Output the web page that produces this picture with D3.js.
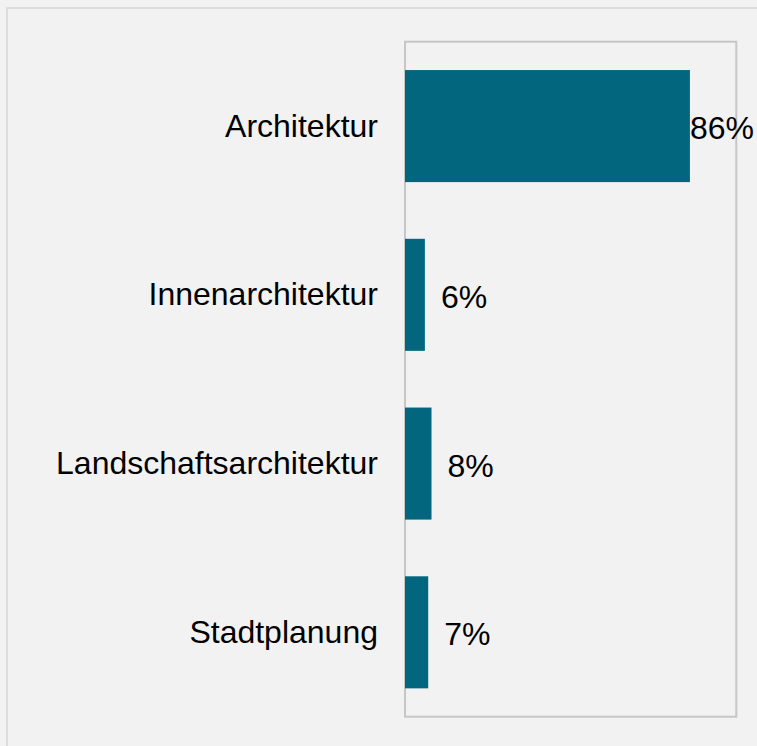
<!DOCTYPE html>
<meta charset="utf-8">
<style>
	body { margin: 0; background: #f2f2f2; }
	svg { display: block; font-family: "Liberation Sans", Arial, sans-serif; }
	.frame { fill: none; stroke: #dcdcdc; stroke-width: 2px; }
	.plot-box { fill: none; stroke: #c6c6c6; stroke-width: 2px; }
	.bar { fill: #02667f; }
	.cat { font-size: 32px; fill: #000; }
	.val { font-size: 32px; fill: #000; }
</style>
<svg id="barChart" width="757" height="746"></svg>
<script src="https://d3js.org/d3.v7.min.js"></script>
<script>
	// Anteile je Fachrichtung
	var categories = ["Architektur", "Innenarchitektur", "Landschaftsarchitektur", "Stadtplanung"];
	var values = [86, 6, 8, 7];
	var valueLabels = ["86%", "6%", "8%", "7%"];

	var data = categories.map(function(c, i){ return {name: c, value: values[i], label: valueLabels[i]}; });

	var svg = d3.select("#barChart"),
	W = +svg.attr("width"),
	margin = {top: 41.7, right: 20.7, bottom: 29.3, left: 405},
	width = W - margin.left - margin.right,
	height = svg.attr("height") - margin.top - margin.bottom;

	// outer frame, runs off the right and bottom edge
	svg.append("rect")
	.attr("class", "frame")
	.attr("x", 7).attr("y", 8)
	.attr("width", 800).attr("height", 800);

	var g = svg.append("g").attr("transform", "translate(" + margin.left + "," + margin.top + ")");

	var x = d3.scaleLinear().domain([0, 100]).range([0, width]);
	var y = d3.scaleBand().domain(categories).range([0, height]).paddingInner(0.336).paddingOuter(0.168);

	g.append("rect")
	.attr("class", "plot-box")
	.attr("x", 0).attr("y", 0)
	.attr("width", width).attr("height", height);

	g.selectAll(".bar")
	.data(data)
	.enter().append("rect")
	.attr("class", "bar")
	.attr("x", x(0))
	.attr("y", function(d) { return y(d.name); })
	.attr("width", function(d) { return x(d.value) - x(0); })
	.attr("height", y.bandwidth());

	g.selectAll(".cat")
	.data(data)
	.enter().append("text")
	.attr("class", "cat")
	.attr("x", -27)
	.attr("y", function(d) { return y(d.name) + y.bandwidth() / 2 + 10.5; })
	.attr("text-anchor", "end")
	.text(function(d) { return d.name; });

	g.selectAll(".val")
	.data(data)
	.enter().append("text")
	.attr("class", "val")
	.attr("y", function(d) { return y(d.name) + y.bandwidth() / 2 + 13; })
	.text(function(d) { return d.label; })
	.attr("x", function(d) {
		var tw = this.getComputedTextLength();
		var maxX = W - 3 - margin.left - tw;
		return Math.min(x(d.value) + 16, maxX);
	});
</script>
